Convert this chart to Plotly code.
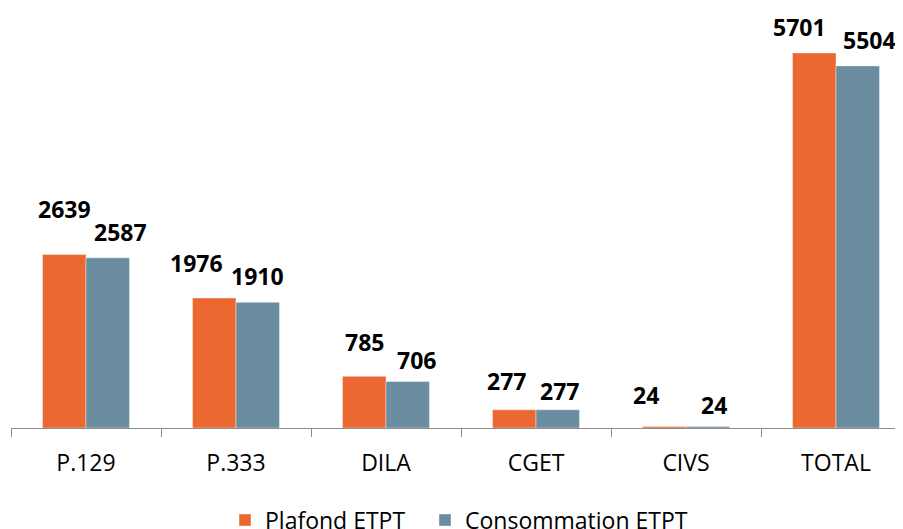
import plotly.graph_objects as go

categories = ["P.129", "P.333", "DILA", "CGET", "CIVS", "TOTAL"]
plafond = [2639, 1976, 785, 277, 24, 5701]
consommation = [2587, 1910, 706, 277, 24, 5504]
series_names = ["Plafond ETPT", "Consommation ETPT"]

# label placement offsets in pixels (dx from bar centre, dy above bar top)
plafond_dx = [0, -18, 0, -8, -18, -15]
plafond_dy = [45, 35, 34, 29, 31, 26]
conso_dx = [13, 0, 9, 2, 6, 12]
conso_dy = [26, 26, 22, 19, 21, 26]

ORANGE = "#EC6831"
BLUE = "#6A8DA0"
FONT = "Open Sans"

fig = go.Figure()
fig.add_trace(go.Bar(x=categories, y=plafond, name=series_names[0], legend="legend",
                     marker=dict(color=ORANGE, line=dict(color="rgba(255,255,255,0.5)", width=0.8))))
fig.add_trace(go.Bar(x=categories, y=consommation, name=series_names[1], legend="legend2",
                     marker=dict(color=BLUE, line=dict(color="rgba(255,255,255,0.5)", width=0.8))))

half = 21.75
annotations = []
for i, c in enumerate(categories):
    annotations.append(dict(x=c, y=plafond[i], xref="x", yref="y", text=f"<b>{plafond[i]}</b>",
                            showarrow=False, xshift=-half + plafond_dx[i], yshift=plafond_dy[i],
                            yanchor="middle", font=dict(family=FONT, size=23, color="black")))
    annotations.append(dict(x=c, y=consommation[i], xref="x", yref="y", text=f"<b>{consommation[i]}</b>",
                            showarrow=False, xshift=half + conso_dx[i], yshift=conso_dy[i],
                            yanchor="middle", font=dict(family=FONT, size=23, color="black")))

legend_common = dict(orientation="h", xanchor="left", xref="container",
                     y=0.032, yanchor="middle", yref="container",
                     font=dict(family=FONT, size=23, color="black"), itemwidth=30,
                     bgcolor="rgba(0,0,0,0)", borderwidth=0)

fig.update_layout(
    width=903, height=529,
    margin=dict(l=3, r=0, t=0, b=109, autoexpand=False),
    paper_bgcolor="white", plot_bgcolor="white",
    barmode="group", bargap=0.42, bargroupgap=0,
    font=dict(family=FONT, size=23, color="black"),
    showlegend=True,
    legend=dict(x=217 / 903, **legend_common),
    legend2=dict(x=417 / 903, **legend_common),
    annotations=annotations,
)
fig.update_xaxes(type="category", range=[-0.5, 5.5], showline=True, linecolor="#8C8C8C", linewidth=1.3,
                 ticks="outside", tickson="boundaries", ticklen=8, tickcolor="#8C8C8C", tickwidth=1.3,
                 ticklabelstandoff=14, automargin=False,
                 showgrid=False, tickfont=dict(family=FONT, size=23, color="black"), fixedrange=True)
fig.update_yaxes(range=[0, 6384], visible=False, showgrid=False, zeroline=False, fixedrange=True,
                 automargin=False)

fig.write_html("out.html")
